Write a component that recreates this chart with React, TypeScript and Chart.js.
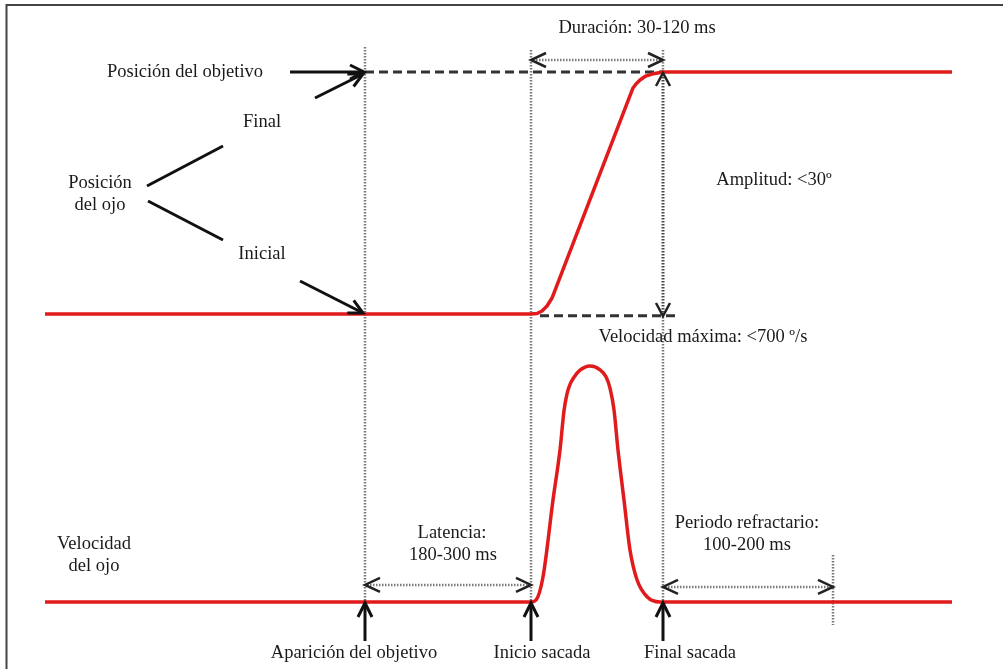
import React, { useEffect, useRef } from "react";
import { Chart, registerables } from "chart.js";

Chart.register(...registerables);

// Time axis in ms (0 = aparición del objetivo)
const eventTimes = [0, 249, 447, 702]; // aparición, inicio sacada, final sacada, fin periodo refractario
const eventLabels = ["Aparición del objetivo", "Inicio sacada", "Final sacada"];

// Eye position (degrees)
const positionTimes = [-480, 249, 258, 265.5, 273, 280.5, 402, 406.5, 412.5, 420, 430.5, 447, 880.5];
const positionDeg = [0, 0, 0.04, 0.25, 0.66, 1.32, 18.68, 19.01, 19.34, 19.63, 19.83, 20, 20];

// Eye velocity (deg/s)
const velocityTimes = [-480, 249, 256.5, 267, 282, 292.5, 298.5, 303, 307.5, 313.5, 322.5, 337.5, 352.5, 361.5, 367.5, 373.5, 379.5, 388.5, 397.5, 408, 423, 442.5, 880.5];
const velocityDegS = [0, 0, 4, 53, 216, 322, 405, 441, 461, 476, 491, 500, 492, 477, 453, 407, 322, 216, 110, 47, 11, 0, 0];

// Reference levels
const targetDeg = 20;
const initialDeg = 0;
const targetLineTimes = [0, 447];
const initialLineTimes = [262.5, 469.5];

const sideLabels = {
  target: "Posición del objetivo",
  eyePos: ["Posición", "del ojo"],
  final: "Final",
  initial: "Inicial",
  eyeVel: ["Velocidad", "del ojo"],
};
const intervalLabels = {
  duration: "Duración: 30-120 ms",
  amplitude: "Amplitud: <30º",
  maxVel: "Velocidad máxima: <700 º/s",
  latency: ["Latencia:", "180-300 ms"],
  refractory: ["Periodo refractario:", "100-200 ms"],
};

const FONT = '18.5px "Liberation Serif", "Times New Roman", serif';
const RED = "#e11b1b";

function line(ctx: CanvasRenderingContext2D, x1: number, y1: number, x2: number, y2: number) {
  ctx.beginPath();
  ctx.moveTo(x1, y1);
  ctx.lineTo(x2, y2);
  ctx.stroke();
}

function head(ctx: CanvasRenderingContext2D, tx: number, ty: number, fx: number, fy: number, len = 14, spread = 7) {
  const ang = Math.atan2(ty - fy, tx - fx);
  const a = Math.atan2(spread, len);
  const L = Math.hypot(len, spread);
  ctx.beginPath();
  ctx.moveTo(tx - L * Math.cos(ang - a), ty - L * Math.sin(ang - a));
  ctx.lineTo(tx, ty);
  ctx.lineTo(tx - L * Math.cos(ang + a), ty - L * Math.sin(ang + a));
  ctx.stroke();
}

function solidArrow(ctx: CanvasRenderingContext2D, x1: number, y1: number, x2: number, y2: number) {
  ctx.save();
  ctx.strokeStyle = "#111";
  ctx.lineWidth = 3;
  ctx.lineCap = "butt";
  ctx.setLineDash([]);
  line(ctx, x1, y1, x2, y2);
  ctx.lineJoin = "miter";
  head(ctx, x2, y2, x1, y1, 14, 7);
  ctx.restore();
}

function dottedLine(ctx: CanvasRenderingContext2D, x1: number, y1: number, x2: number, y2: number, color = "#7a7a7a", w = 2.5) {
  ctx.save();
  ctx.strokeStyle = color;
  ctx.lineWidth = w;
  ctx.setLineDash([1.5, 1.5]);
  line(ctx, x1, y1, x2, y2);
  ctx.restore();
}

function doubleDotted(ctx: CanvasRenderingContext2D, x1: number, x2: number, y: number) {
  dottedLine(ctx, x1 + 2, y, x2 - 2, y, "#7a7a7a", 2.5);
  ctx.save();
  ctx.strokeStyle = "#222";
  ctx.lineWidth = 2.5;
  ctx.setLineDash([]);
  head(ctx, x1, y, x1 + 10, y, 15, 7);
  head(ctx, x2, y, x2 - 10, y, 15, 7);
  ctx.restore();
}

function text(ctx: CanvasRenderingContext2D, s: string, x: number, y: number) {
  ctx.save();
  ctx.font = FONT;
  ctx.fillStyle = "#1a1a1a";
  ctx.textAlign = "center";
  ctx.textBaseline = "middle";
  ctx.fillText(s, x, y);
  ctx.restore();
}

const annotations = {
  id: "annotations",
  beforeDraw(chart: any) {
    const ctx = chart.ctx as CanvasRenderingContext2D;
    ctx.save();
    ctx.fillStyle = "#fff";
    ctx.fillRect(0, 0, chart.width, chart.height);
    ctx.strokeStyle = "#444";
    ctx.lineWidth = 2;
    ctx.beginPath();
    ctx.moveTo(6.5, chart.height + 5);
    ctx.lineTo(6.5, 5);
    ctx.lineTo(chart.width + 5, 5);
    ctx.stroke();
    ctx.restore();
  },
  beforeDatasetsDraw(chart: any) {
    const ctx = chart.ctx as CanvasRenderingContext2D;
    const xs = chart.scales.x;
    const yp = chart.scales.yPos;
    const yv = chart.scales.yVel;
    const [xA, xI, xF, xR] = eventTimes.map((t) => xs.getPixelForValue(t));
    const yT = yp.getPixelForValue(targetDeg);
    const y0 = yp.getPixelForValue(initialDeg);
    const yB = yv.getPixelForValue(0);

    dottedLine(ctx, xA, yT - 25, xA, yB);
    dottedLine(ctx, xI, yT - 22, xI, yB);
    dottedLine(ctx, xF, yT - 22, xF, yT);
    dottedLine(ctx, xF, y0, xF, yB);
    dottedLine(ctx, xR, yB - 47, xR, yB + 23);
    // amplitude arrow shaft
    dottedLine(ctx, xF, yT + 2, xF, y0 + 1, "#4a4a4a", 3);
  },
  afterDatasetsDraw(chart: any) {
    const ctx = chart.ctx as CanvasRenderingContext2D;
    const xs = chart.scales.x;
    const yp = chart.scales.yPos;
    const yv = chart.scales.yVel;
    const [xA, xI, xF, xR] = eventTimes.map((t) => xs.getPixelForValue(t));
    const yT = yp.getPixelForValue(targetDeg);
    const y0 = yp.getPixelForValue(initialDeg);
    const yB = yv.getPixelForValue(0);

    // amplitude arrow heads
    ctx.save();
    ctx.strokeStyle = "#222";
    ctx.lineWidth = 2.5;
    head(ctx, xF, yT + 1, xF, yT + 20, 13, 7);
    head(ctx, xF, y0 + 2, xF, y0 - 20, 13, 7);
    ctx.restore();

    // interval arrows
    doubleDotted(ctx, xI, xF, yT - 12);
    doubleDotted(ctx, xA, xI, yB - 17);
    doubleDotted(ctx, xF, xR, yB - 15);

    // bottom event arrows + labels
    [xA, xI, xF].forEach((x) => solidArrow(ctx, x, yB + 39, x, yB + 1));
    text(ctx, eventLabels[0], xA - 11, yB + 51);
    text(ctx, eventLabels[1], xI + 11, yB + 51);
    text(ctx, eventLabels[2], xF + 27, yB + 51);

    // left side annotations
    text(ctx, sideLabels.target, 185, yT);
    solidArrow(ctx, 290, yT, xA - 1, yT);
    solidArrow(ctx, 315, yT + 26, xA - 2, yT + 2);
    text(ctx, sideLabels.final, 262, 122);
    ctx.save();
    ctx.strokeStyle = "#111";
    ctx.lineWidth = 3;
    line(ctx, 147, 186, 223, 146);
    line(ctx, 148, 201, 223, 240);
    ctx.restore();
    text(ctx, sideLabels.eyePos[0], 100, 183);
    text(ctx, sideLabels.eyePos[1], 100, 205);
    text(ctx, sideLabels.initial, 262, 254);
    solidArrow(ctx, 300, 281, xA - 2, y0 - 1);
    text(ctx, sideLabels.eyeVel[0], 94, 544);
    text(ctx, sideLabels.eyeVel[1], 94, 566);

    // interval labels
    text(ctx, intervalLabels.duration, (xI + xF) / 2 + 40, yT - 44);
    text(ctx, intervalLabels.amplitude, xF + 111, (yT + y0) / 2 - 13);
    text(ctx, intervalLabels.maxVel, xF + 40, y0 + 23);
    text(ctx, intervalLabels.latency[0], (xA + xI) / 2 + 4, yB - 69);
    text(ctx, intervalLabels.latency[1], (xA + xI) / 2 + 5, yB - 47);
    text(ctx, intervalLabels.refractory[0], (xF + xR) / 2 - 1, yB - 79);
    text(ctx, intervalLabels.refractory[1], (xF + xR) / 2 - 1, yB - 57);
  },
};

export default function App() {
  const ref = useRef<HTMLCanvasElement | null>(null);

  useEffect(() => {
    if (!ref.current) return;
    const chart = new Chart(ref.current, {
      type: "line",
      data: {
        datasets: [
          {
            label: "Objetivo",
            data: targetLineTimes.map((t) => ({ x: t, y: targetDeg })),
            yAxisID: "yPos",
            borderColor: "#333",
            borderWidth: 3,
            borderDash: [9, 5],
            pointRadius: 0,
            order: 3,
          },
          {
            label: "Inicial",
            data: initialLineTimes.map((t) => ({ x: t, y: initialDeg - 0.15 })),
            yAxisID: "yPos",
            borderColor: "#333",
            borderWidth: 3,
            borderDash: [9, 5],
            pointRadius: 0,
            order: 3,
          },
          {
            label: "Posición del ojo",
            data: positionTimes.map((t, i) => ({ x: t, y: positionDeg[i] })),
            yAxisID: "yPos",
            borderColor: RED,
            borderWidth: 3.5,
            pointRadius: 0,
            tension: 0,
            borderJoinStyle: "round",
            order: 1,
          },
          {
            label: "Velocidad del ojo",
            data: velocityTimes.map((t, i) => ({ x: t, y: velocityDegS[i] })),
            yAxisID: "yVel",
            borderColor: RED,
            borderWidth: 3.5,
            pointRadius: 0,
            cubicInterpolationMode: "monotone",
            borderJoinStyle: "round",
            order: 1,
          },
        ],
      },
      options: {
        animation: false,
        responsive: false,
        maintainAspectRatio: false,
        layout: { padding: 0 },
        plugins: { legend: { display: false }, tooltip: { enabled: false } },
        events: [],
        scales: {
          x: { type: "linear", min: -547.5, max: 957, display: false },
          yPos: { type: "linear", min: -29.34, max: 25.95, display: false },
          yVel: { type: "linear", min: -142, max: 1275.4, display: false },
        },
      },
      plugins: [annotations],
    });
    return () => chart.destroy();
  }, []);

  return (
    <div style={{ position: "fixed", left: 0, top: 0, width: 1003, height: 669, background: "#fff" }}>
      <canvas ref={ref} width={1003} height={669} style={{ display: "block" }} />
    </div>
  );
}
